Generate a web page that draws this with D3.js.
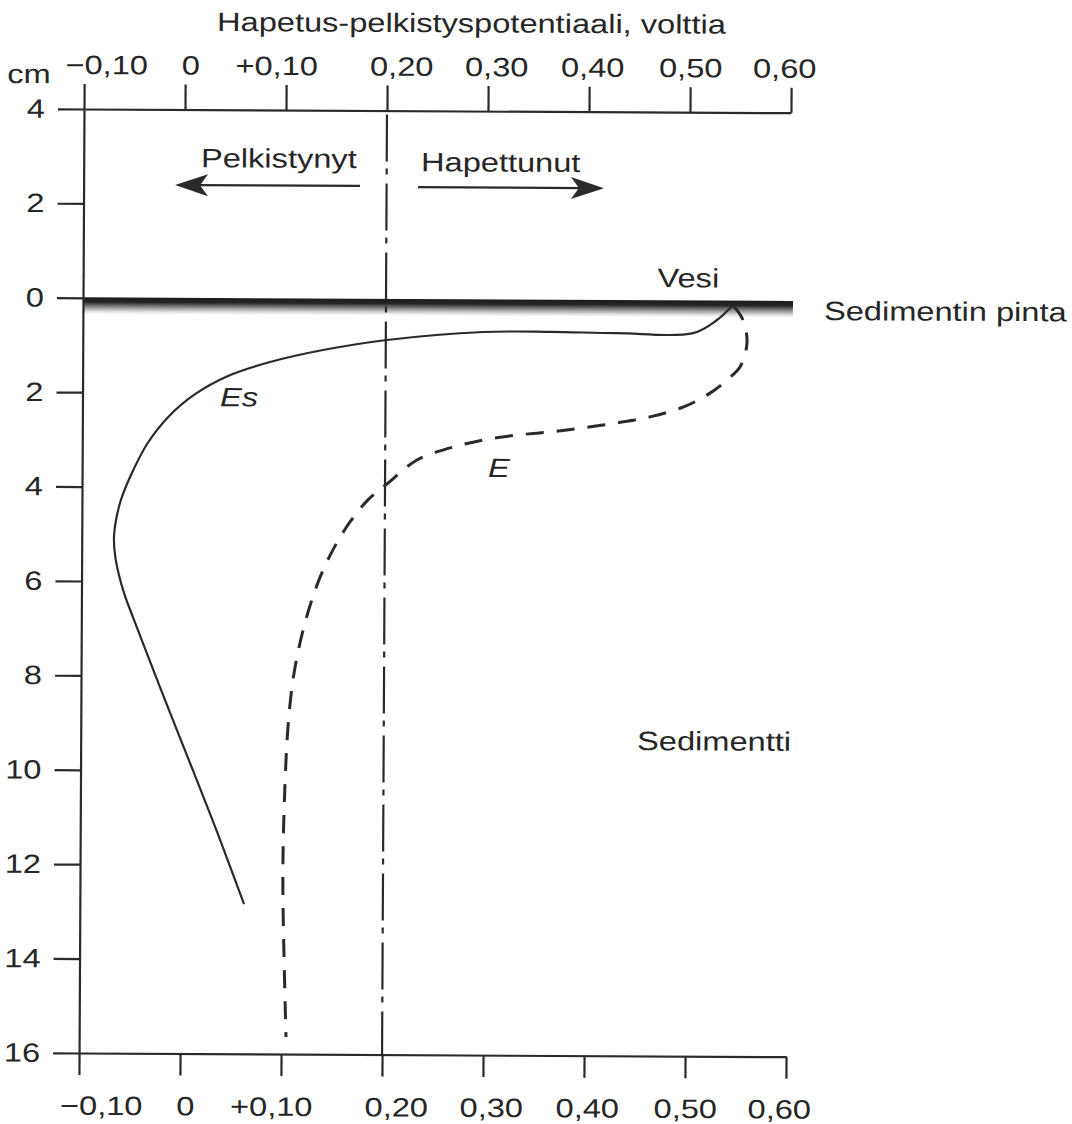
<!DOCTYPE html>
<html>
<head>
<meta charset="utf-8">
<script src="https://cdn.jsdelivr.net/npm/d3@7"></script>
<style>
  body { margin: 0; background: #ffffff; }
  svg { display: block; }
  text { font-family: "Liberation Sans", Arial, Helvetica, sans-serif; fill: #262626; }
</style>
</head>
<body>
<svg id="chart" width="1072" height="1124"></svg>
<script>
// Redox potential (volts) against depth (cm); negative depth = water above the sediment surface
const xTickValues = [-0.10, 0, 0.10, 0.20, 0.30, 0.40, 0.50, 0.60];
const xTickLabels = ["\u22120,10", "0", "+0,10", "0,20", "0,30", "0,40", "0,50", "0,60"];
const yTickValues = [-4, -2, 0, 2, 4, 6, 8, 10, 12, 14, 16];
const yTickLabels = ["4", "2", "0", "2", "4", "6", "8", "10", "12", "14", "16"];

// Es profile (solid)
const esPotential = [0.5436, 0.5278, 0.5042, 0.4289, 0.3626, 0.2962, 0.2012, 0.1379, 0.0855, 0.044, 0.0114, -0.0152, -0.0358, -0.0516, -0.0614, -0.0661, -0.0681, -0.067, -0.063, -0.0569, -0.0489, -0.0358, -0.0128, 0.0124, 0.0355, 0.0626];
const esDepth     = [0.08,   0.40,   0.68,   0.69,   0.67,   0.68,   0.86,   1.08,   1.34,   1.64,  2.03,   2.52,    3.09,    3.75,    4.28,    4.70,    5.08,    5.44,   5.87,   6.31,    6.76,    7.48,    8.72,    10.06,  11.30,  12.83];

// E profile (dashed)
const ePotential = [0.5436, 0.5536, 0.5576, 0.5509, 0.538, 0.5213, 0.4947, 0.462, 0.4293, 0.3957, 0.3631, 0.3304, 0.2967, 0.2642, 0.2315, 0.202, 0.1832, 0.1655, 0.1498, 0.137, 0.1263, 0.1166, 0.1099, 0.1051, 0.1025, 0.1009, 0.1012, 0.1048];
const eDepth     = [0.08,   0.40,   0.88,   1.39,   1.67,  1.95,   2.25,   2.46,  2.59,   2.70,   2.79,   2.86,   2.97,   3.14,   3.40,   3.91,  4.25,   4.72,   5.27,   5.85,  6.50,   7.29,   8.07,   9.09,   10.28,  11.85,  12.86,  15.64];

// Oxidised / reduced boundary
const boundaryPotential = 0.20;

// In-plot labels
const noteTexts     = ["Pelkistynyt", "Hapettunut", "Vesi", "Sedimentin pinta", "Es", "E", "Sedimentti"];
const notePotential = [0.1703, 0.234, 0.4688, 0.6337, 0.0362, 0.302, 0.4509];
const noteDepth     = [-2.78, -2.72, -0.29, 0.39, 2.28, 3.75, 9.52];

// Direction arrows
const arrowFrom  = [0.1737, 0.2311];
const arrowTo    = [-0.0095, 0.4152];
const arrowDepth = [-2.40, -2.38];

// ---- drawing ----
const FS = 26.5;   // font size
const SX = 1.23;   // horizontal stretch of the lettering
const INK = "#2a2a2a";

const svg = d3.select("#chart");
const defs = svg.append("defs");
const root = svg.append("g").attr("transform", "rotate(0.3,84,109)");

const x = d3.scaleLinear().domain([-0.1, 0.6]).range([84, 791]);
const y = d3.scaleLinear().domain([-4, 16]).range([109, 1053]);

// shifts of the potential labels relative to their ticks
const labelShift = [22, 5, -10, 14, 8, 3, 0, -7];

function stretchAxisText(g, vertical) {
  g.selectAll(".tick text").each(function (d, i) {
    const t = d3.select(this);
    const tx = +t.attr("x") || 0;
    const ty = +t.attr("y") || 0;
    const dx = vertical ? 0 : labelShift[i];
    t.attr("transform", `translate(${tx + dx},${ty}) scale(${SX},1)`)
     .attr("x", 0).attr("y", 0);
  });
  g.attr("font-size", FS).attr("font-family", null);
  g.selectAll("text").attr("fill", "#262626");
  g.selectAll(".domain, .tick line").attr("stroke", INK).attr("stroke-width", 2.2);
}

// surface band with soft shading underneath
const grad = defs.append("linearGradient").attr("id", "surf").attr("x1", 0).attr("y1", 0).attr("x2", 0).attr("y2", 1);
[[0, "#1c1c1c"], [0.28, "#262626"], [0.42, "#5a5a5a"], [0.65, "#a8a8a8"], [0.85, "#e4e4e4"], [1, "#ffffff"]]
  .forEach(([o, c]) => grad.append("stop").attr("offset", o).attr("stop-color", c));

root.append("rect")
  .attr("x", x(-0.1))
  .attr("y", y(0) - 0.5)
  .attr("width", x(0.6) - x(-0.1) + 3)
  .attr("height", 17)
  .attr("fill", "url(#surf)");

// boundary line (dash-dot)
root.append("line")
  .attr("x1", x(boundaryPotential)).attr("x2", x(boundaryPotential))
  .attr("y1", y(-4)).attr("y2", y(16))
  .attr("stroke", INK).attr("stroke-width", 2.2)
  .attr("stroke-dasharray", "47,7,6,9")
  .attr("stroke-dashoffset", -4);

// axes
const topAxis = root.append("g").attr("transform", `translate(0,${y(-4)})`)
  .call(d3.axisTop(x).tickValues(xTickValues).tickFormat((d, i) => xTickLabels[i])
    .tickSize(25).tickSizeOuter(0).tickPadding(10));
stretchAxisText(topAxis, false);

const bottomAxis = root.append("g").attr("transform", `translate(0,${y(16)})`)
  .call(d3.axisBottom(x).tickValues(xTickValues).tickFormat((d, i) => xTickLabels[i])
    .tickSize(22).tickSizeOuter(0).tickPadding(21));
stretchAxisText(bottomAxis, false);

const leftAxis = root.append("g").attr("transform", `translate(${x(-0.1)},0)`)
  .call(d3.axisLeft(y).tickValues(yTickValues).tickFormat((d, i) => yTickLabels[i])
    .tickSize(26).tickSizeOuter(0).tickPadding(13));
stretchAxisText(leftAxis, true);

// profiles
const line = d3.line()
  .x(d => x(d[0]))
  .y(d => y(d[1]))
  .curve(d3.curveCatmullRom.alpha(0.5));

root.append("path")
  .datum(esPotential.map((v, i) => [v, esDepth[i]]))
  .attr("d", line)
  .attr("fill", "none").attr("stroke", INK).attr("stroke-width", 2.2)
  .attr("stroke-linejoin", "round");

root.append("path")
  .datum(ePotential.map((v, i) => [v, eDepth[i]]))
  .attr("d", line)
  .attr("fill", "none").attr("stroke", INK).attr("stroke-width", 3)
  .attr("stroke-dasharray", "18,13");

// arrows
arrowFrom.forEach((f, i) => {
  const x0 = x(f), x1 = x(arrowTo[i]), yy = y(arrowDepth[i]);
  const dir = Math.sign(x1 - x0);
  root.append("line")
    .attr("x1", x0).attr("x2", x1 - dir * 20)
    .attr("y1", yy).attr("y2", yy)
    .attr("stroke", INK).attr("stroke-width", 2.2);
  const L = 33, H = 11, N = 8;
  root.append("path")
    .attr("d", `M${x1},${yy} L${x1 - dir * L},${yy - H} L${x1 - dir * (L - N)},${yy} L${x1 - dir * L},${yy + H} Z`)
    .attr("fill", INK);
});

// in-plot labels
noteTexts.forEach((t, i) => {
  const italic = (t === "Es" || t === "E");
  root.append("text")
    .attr("transform", `translate(${x(notePotential[i])},${y(noteDepth[i])}) scale(${SX},1)`)
    .attr("font-size", FS)
    .attr("font-style", italic ? "italic" : "normal")
    .attr("text-anchor", t === "Pelkistynyt" ? "end" : "start")
    .text(t);
});

// axis title and unit
root.append("text")
  .attr("transform", `translate(216.6,30.3) scale(${SX},1)`)
  .attr("font-size", FS)
  .text("Hapetus-pelkistyspotentiaali, volttia");

root.append("text")
  .attr("transform", `translate(7,83.4) scale(${SX},1)`)
  .attr("font-size", FS)
  .text("cm");
</script>
</body>
</html>
